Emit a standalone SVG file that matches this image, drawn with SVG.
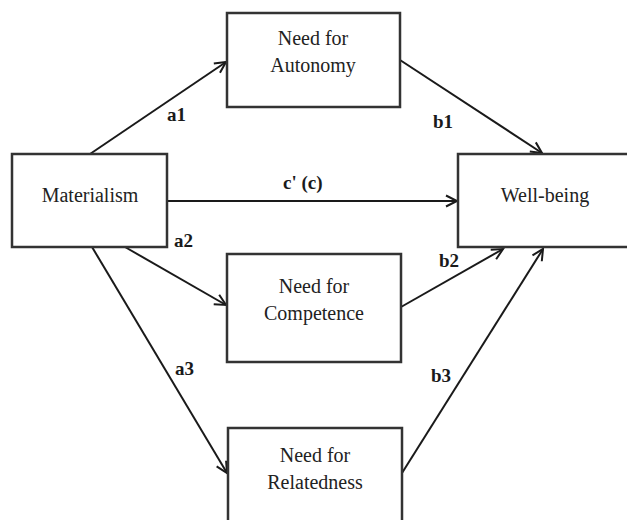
<svg xmlns="http://www.w3.org/2000/svg" width="627" height="520" viewBox="0 0 627 520">
<defs>
<marker id="arr" markerUnits="userSpaceOnUse" markerWidth="16" markerHeight="16" viewBox="-13 -8 16 16" refX="0" refY="0" orient="auto">
<path d="M-11,-5.5 L0,0 L-11,5.5" fill="none" stroke="#1a1a1a" stroke-width="2"/>
</marker>
<style>
.box{fill:#fff;stroke:#333;stroke-width:2.5}
.node{font-family:"Liberation Serif","Times New Roman",serif;font-size:20px;fill:#222;text-anchor:middle}
.lbl{font-family:"Liberation Serif","Times New Roman",serif;font-size:19px;font-weight:bold;fill:#1a1a1a}
.edge{stroke:#1a1a1a;stroke-width:2;fill:none;marker-end:url(#arr)}
</style>
</defs>
<rect width="627" height="520" fill="#fff"/>
<g id="connectors">
<line class="edge" x1="90" y1="154" x2="226" y2="62"/>
<line class="edge" x1="400" y1="60" x2="542" y2="153"/>
<line class="edge" x1="167" y1="201" x2="457" y2="201"/>
<line class="edge" x1="125" y1="247" x2="226" y2="305"/>
<line class="edge" x1="92" y1="247" x2="227" y2="473"/>
<line class="edge" x1="401" y1="307" x2="503" y2="249"/>
<line class="edge" x1="402" y1="473" x2="543" y2="249"/>
<text class="lbl" x="167" y="121">a1</text>
<text class="lbl" x="433" y="128">b1</text>
<text class="lbl" x="283" y="189">c' (c)</text>
<text class="lbl" x="174" y="247">a2</text>
<text class="lbl" x="439" y="267">b2</text>
<text class="lbl" x="175" y="375">a3</text>
<text class="lbl" x="431" y="382">b3</text>
</g>
<g id="materialism">
<rect class="box" x="12" y="154" width="155" height="93"/>
<text class="node" x="90" y="202">Materialism</text>
</g>
<g id="autonomy">
<rect class="box" x="227" y="13" width="173" height="94"/>
<text class="node" x="313" y="45">Need for</text>
<text class="node" x="313" y="72">Autonomy</text>
</g>
<g id="wellbeing">
<rect class="box" x="458" y="154" width="174" height="93"/>
<text class="node" x="545" y="202">Well-being</text>
</g>
<g id="competence">
<rect class="box" x="227" y="254" width="174" height="108"/>
<text class="node" x="314" y="293">Need for</text>
<text class="node" x="314" y="320">Competence</text>
</g>
<g id="relatedness">
<rect class="box" x="228" y="428" width="174" height="110"/>
<text class="node" x="315" y="462">Need for</text>
<text class="node" x="315" y="489">Relatedness</text>
</g>
</svg>
